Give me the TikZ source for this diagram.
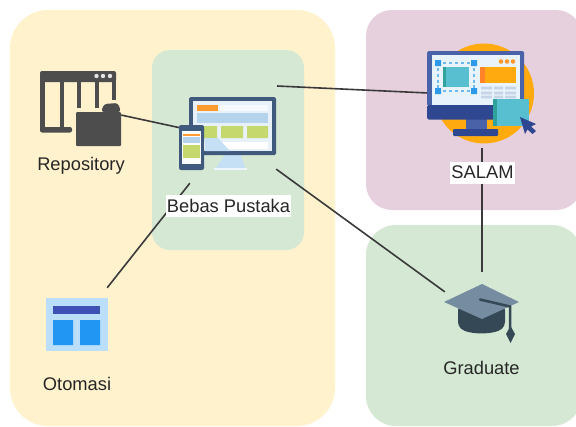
\documentclass[tikz,border=0pt]{standalone}
\usepackage{fontspec}
\setmainfont{Liberation Sans}
\definecolor{regY}{HTML}{FFF2CC}
\definecolor{regG}{HTML}{D5E8D4}
\definecolor{regP}{HTML}{E6D0DE}
\definecolor{wire}{HTML}{3A3A3A}
\definecolor{repoC}{HTML}{4D4D4D}
\definecolor{navyA}{HTML}{3F5A7D}
\definecolor{scrA}{HTML}{E8F1FA}
\definecolor{bandA}{HTML}{B5D3EA}
\definecolor{limeA}{HTML}{C5D86D}
\definecolor{orgA}{HTML}{FF9A2E}
\definecolor{standA}{HTML}{C5DFF5}
\definecolor{sunC}{HTML}{FFAB10}
\definecolor{monB}{HTML}{4A62A8}
\definecolor{monD}{HTML}{2F4690}
\definecolor{scrB}{HTML}{E8F3FC}
\definecolor{tealB}{HTML}{57BFD0}
\definecolor{tealD}{HTML}{2FA39B}
\definecolor{selB}{HTML}{2E9BEA}
\definecolor{rowB}{HTML}{C5D5E6}
\definecolor{capT}{HTML}{768CA0}
\definecolor{capD}{HTML}{344955}
\definecolor{otoL}{HTML}{BBDEFB}
\definecolor{otoB}{HTML}{3F51B5}
\definecolor{otoM}{HTML}{2196F3}
\tikzset{
  region/.style={rounded corners=#1},
  wireline/.style={draw=wire,line width=1.6pt},
  lbl/.style={font=\fontsize{18.3}{20}\selectfont,text=black!85,inner sep=0pt},
  lblbox/.style={lbl,fill=white,minimum height=22pt,inner xsep=1pt},
  anchorpt/.style={inner sep=0pt,minimum size=0pt}
}
\begin{document}
\begin{tikzpicture}[x=1pt,y=-1pt]
\useasboundingbox (0,0) rectangle (576,426);
\fill[white] (0,0) rectangle (576,426);
% regions
\fill[regY,region=38pt] (10,10) rectangle (335,426);
\fill[regG,region=18pt] (152,50) rectangle (304,250);
\fill[regP,region=26pt] (366,10) rectangle (582,210);
\fill[regG,region=30pt] (366,225) rectangle (582,426);
% connector ends
\node[anchorpt] (folderEnd) at (121,115) {};
\node[anchorpt] (phoneEnd) at (181,128) {};
\node[anchorpt] (bebasTop) at (277,86) {};
\node[anchorpt] (salamLeft) at (428,93) {};
\node[anchorpt] (bebasRight) at (276,169) {};
\node[anchorpt] (gradLeft) at (445,292) {};
\node[anchorpt] (bebasLow) at (190,183) {};
\node[anchorpt] (otoEnd) at (107,288) {};
\node[anchorpt] (salamLow) at (482,148) {};
\node[anchorpt] (gradTop) at (482,272) {};
% connectors
\draw[wireline] (folderEnd) -- (phoneEnd);
\draw[wireline] (bebasTop) -- (salamLeft);
\draw[wireline] (bebasRight) -- (gradLeft);
\draw[wireline] (bebasLow) -- (otoEnd);
\draw[wireline] (salamLow) -- (gradTop);
% repository icon
\fill[repoC,rounded corners=2pt] (40,71) rectangle (116,82);
\fill[repoC] (40,75) rectangle (44.5,129);
\fill[repoC,rounded corners=2pt] (40,127) rectangle (72,132.5);
\fill[repoC] (60,81) rectangle (63.5,130);
\fill[repoC] (77,81) rectangle (80.5,108);
\fill[repoC] (95,81) rectangle (98.5,108);
\fill[repoC] (112,78) rectangle (115.5,100);
\fill[white!85!repoC] (96.5,76) circle (2.2) (103,76) circle (2.2) (110,76) circle (2.2);
\fill[repoC,rounded corners=3pt] (101,112) -- (104,104) -- (118,103) -- (121,112) -- cycle;
\fill[repoC,rounded corners=1pt] (76,112) rectangle (121,146);
% bebas pustaka icon
\fill[standA] (225,155) -- (241,155) -- (245,168) -- (216,168) -- cycle;
\fill[white!70!standA] (214,168) rectangle (247,170);
\fill[navyA,rounded corners=1.5pt] (189,97) rectangle (276,155);
\fill[scrA] (193,101) rectangle (272,151);
\fill[orgA] (197,105) rectangle (218,111);
\fill[white!60!scrA] (220,105) rectangle (268,111);
\fill[bandA] (197,113) rectangle (268,123);
\fill[limeA] (197,126) rectangle (217,138) (221,126) rectangle (243,138) (247,126) rectangle (268,138);
\fill[white] (197,142) rectangle (268,149);
\fill[bandA] (205,143) rectangle (220,144);
\fill[standA] (205,138) -- (218,138) -- (230,151) -- (205,151) -- cycle;
\fill[navyA,rounded corners=2pt] (179,125) rectangle (204,170);
\fill[white!80!scrA] (182,131) rectangle (201,164);
\fill[orgA] (183,134) rectangle (200,136);
\fill[bandA] (183,137) rectangle (200,143);
\fill[limeA] (183,145) rectangle (200,158);
% salam icon
\fill[sunC] (484,93.5) circle (50);
\fill[monB] (466,119) rectangle (487,129);
\fill[monD,rounded corners=1pt] (453,129) rectangle (498,136);
\fill[monB,rounded corners=1.5pt] (427,51) rectangle (524,106);
\fill[monD,rounded corners=1.5pt] (427,105) rectangle (524,119.5);
\fill[scrB] (432,55) rectangle (520,105);
\foreach \px in {444.5,450.5,456.5,462.5,468.5}{
  \fill[selB!70!white] (\px-1.5,62) rectangle (\px+1.5,64);
  \fill[selB!70!white] (\px-1.5,90) rectangle (\px+1.5,92);
}
\foreach \py in {69,75,81,86}{
  \fill[selB!70!white] (437,\py-1.5) rectangle (439,\py+1.5);
  \fill[selB!70!white] (473,\py-1.5) rectangle (475,\py+1.5);
}
\fill[selB] (435,60) rectangle (441,66) (471,60) rectangle (477,66) (435,88) rectangle (441,94) (471,88) rectangle (477,94);
\fill[tealB] (443,67) rectangle (469,87);
\fill[tealD] (443,67) rectangle (446,87);
\fill[sunC] (480,67) rectangle (516,83);
\fill[orgA!85!red] (480,67) rectangle (485,83);
\fill[orgA] (501,61.5) circle (2.3) (507,61.5) circle (2.3) (513,61.5) circle (2.3);
\foreach \py in {88,93,97}{
  \fill[rowB] (481,\py-1.3) rectangle (492,\py+1.3) (494,\py-1.3) rectangle (503,\py+1.3) (505,\py-1.3) rectangle (516,\py+1.3);
}
\fill[tealB] (493,99) rectangle (529,126);
\fill[tealD] (493,99) rectangle (497,126);
\fill[monD] (520,117) -- (536,124) -- (531,126.5) -- (536,131) -- (532.5,134) -- (527.5,129.5) -- (525,134) -- cycle;
% graduate icon
\fill[capD,rounded corners=4pt] (458,306) -- (505,306) -- (505,326) .. controls (495,335) and (468,335) .. (458,326) -- cycle;
\fill[capT] (444,302) -- (482,284) -- (519,302) -- (482,319) -- cycle;
\draw[capD,line width=2.5pt,line cap=round] (480,299.5) -- (510,306.5) -- (510,330);
\fill[capD] (510.5,326) -- (515,334) -- (510.5,343) -- (506,334) -- cycle;
% otomasi icon
\fill[otoL] (46,298) rectangle (108,351);
\fill[otoB] (53,306) rectangle (100,314);
\fill[otoM] (53,320) rectangle (73,345) (80,320) rectangle (100,345);
% labels
\node[lbl] (repoLabel) at (81,166) {Repository};
\node[lblbox] (bebasLabel) at (228.5,205.5) {Bebas Pustaka};
\node[lblbox] (salamLabel) at (482.5,172.5) {SALAM};
\node[lbl] (gradLabel) at (481.5,368) {Graduate};
\node[lbl] (otoLabel) at (77,384) {Otomasi};
\end{tikzpicture}
\end{document}
